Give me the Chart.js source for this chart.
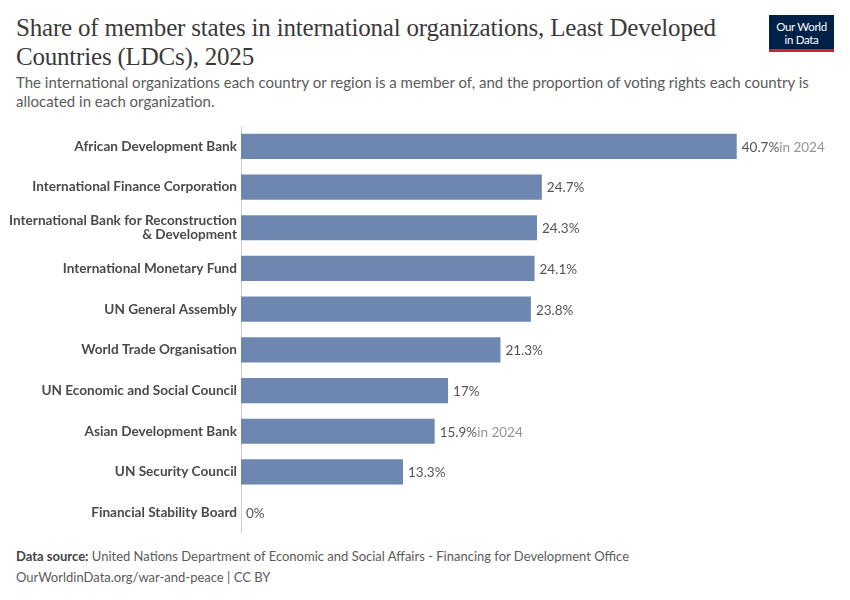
<!DOCTYPE html>
<html><head><meta charset="utf-8">
<script src="https://cdn.jsdelivr.net/npm/chart.js@4.4.1/dist/chart.umd.min.js"></script>
<style>
html,body{margin:0;padding:0;background:#fff;width:850px;height:600px;overflow:hidden;font-family:Lato,"Noto Sans",sans-serif;}
#title{position:absolute;left:16px;top:13px;width:745px;font-family:"Liberation Serif","DejaVu Serif",serif;font-size:25px;line-height:29px;color:#3a3a3a;letter-spacing:-0.2px;}
#sub{position:absolute;left:16px;top:73px;width:810px;font-size:15px;line-height:19px;color:#5b5b5b;}
#logo{position:absolute;left:769px;top:15px;width:65px;height:37px;background:#002147;border-bottom:3px solid #ce261e;box-sizing:border-box;color:#fff;font-size:11.5px;line-height:13px;text-align:center;padding-top:5px;letter-spacing:-0.3px;}
#chartwrap{position:absolute;left:0;top:115px;width:850px;height:429px;}
#foot{position:absolute;left:16px;top:546px;font-size:13px;line-height:21px;color:#5b5b5b;}
#foot b{color:#444;font-weight:700;}
</style></head>
<body>
<div id="title">Share of member states in international organizations, Least Developed Countries (LDCs), 2025</div>
<div id="sub">The international organizations each country or region is a member of, and the proportion of voting rights each country is allocated in each organization.</div>
<div id="logo">Our World<br>in Data</div>
<div id="chartwrap"><canvas id="c"></canvas></div>
<div id="foot"><b>Data source:</b> United Nations Department of Economic and Social Affairs - Financing for Development Office<br>OurWorldinData.org/war-and-peace | CC BY</div>
<script>
const categories = ["African Development Bank","International Finance Corporation",["International Bank for Reconstruction","& Development"],"International Monetary Fund","UN General Assembly","World Trade Organisation","UN Economic and Social Council","Asian Development Bank","UN Security Council","Financial Stability Board"];
const values = [40.7,24.7,24.3,24.1,23.8,21.3,17,15.9,13.3,0];
const valueLabels = ["40.7%","24.7%","24.3%","24.1%","23.8%","21.3%","17%","15.9%","13.3%","0%"];
const yearNotes = ["in 2024","","","","","","","in 2024","",""];

const labelPlugin = {
  id:'vals',
  afterDatasetsDraw(chart){
    const ctx = chart.ctx;
    const meta = chart.getDatasetMeta(0);
    ctx.save();
    ctx.font = '13.5px Lato, "Noto Sans", sans-serif';
    ctx.textBaseline = 'middle';
    meta.data.forEach((bar,i)=>{
      const x = bar.x + 5, y = bar.y + 1;
      ctx.fillStyle = '#555';
      ctx.textAlign = 'left';
      ctx.fillText(valueLabels[i], x, y);
      if (yearNotes[i]) {
        const w = ctx.measureText(valueLabels[i]).width;
        ctx.fillStyle = '#959595';
        ctx.fillText(yearNotes[i], x + w, y);
      }
    });
    ctx.restore();
  }
};

new Chart(document.getElementById('c'), {
  type:'bar',
  data:{labels:categories, datasets:[{data:values, backgroundColor:'#6d87b0', borderWidth:0, barPercentage:0.62, categoryPercentage:1}]},
  options:{
    indexAxis:'y', responsive:true, maintainAspectRatio:false, animation:false,
    layout:{padding:{left:0,right:0,top:0,bottom:0}},
    plugins:{legend:{display:false}, tooltip:{enabled:false}},
    scales:{
      x:{display:false, min:0, max:50},
      y:{
        grid:{display:false, drawTicks:false},
        border:{display:true, color:'#cfcfcf', width:1},
        ticks:{color:'#4a4a4a', padding:4, font:{family:'Lato, "Noto Sans", sans-serif', size:13.6, weight:'bold', lineHeight:1.03}},
        afterFit(s){ s.width = 241; }
      }
    }
  },
  plugins:[labelPlugin]
});
</script>
</body></html>
